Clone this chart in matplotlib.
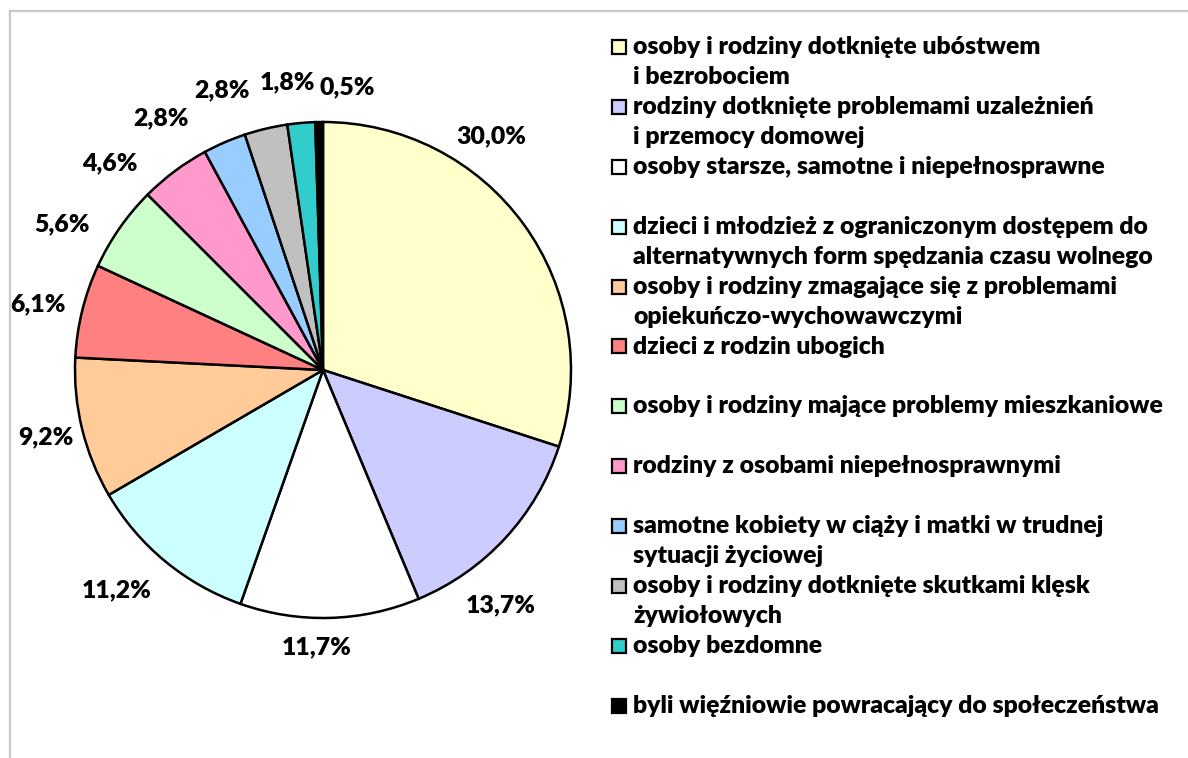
import matplotlib
matplotlib.use("Agg")
import matplotlib.pyplot as plt
from matplotlib.patches import Rectangle
from matplotlib.lines import Line2D
import numpy as np

# --- data ---
categories = [
    "osoby i rodziny dotknięte ubóstwem\ni bezrobociem",
    "rodziny dotknięte problemami uzależnień\ni przemocy domowej",
    "osoby starsze, samotne i niepełnosprawne",
    "dzieci i młodzież z ograniczonym dostępem do\nalternatywnych form spędzania czasu wolnego",
    "osoby i rodziny zmagające się z problemami\nopiekuńczo-wychowawczymi",
    "dzieci z rodzin ubogich",
    "osoby i rodziny mające problemy mieszkaniowe",
    "rodziny z osobami niepełnosprawnymi",
    "samotne kobiety w ciąży i matki w trudnej\nsytuacji życiowej",
    "osoby i rodziny dotknięte skutkami klęsk\nżywiołowych",
    "osoby bezdomne",
    "byli więźniowie powracający do społeczeństwa",
]
shares = [30.0, 13.7, 11.7, 11.2, 9.2, 6.1, 5.6, 4.6, 2.8, 2.8, 1.8, 0.5]
colors = ["#FFFFCC", "#CCCCFF", "#FFFFFF", "#CCFFFF", "#FFCC99", "#FF8080",
          "#CCFFCC", "#FF99CC", "#99CCFF", "#C0C0C0", "#33CCCC", "#000000"]

# label placement tweaks (angle shift in degrees from slice middle, radius)
lab_shift = [18.1, -10.2, -3.0, -3.5, 0.0, 0.8, 5.8, 9.1, 9.4, 6.6, 2.0, -5.8]
lab_r = [1.161, 1.189, 1.117, 1.215, 1.149, 1.179, 1.204, 1.198, 1.209, 1.200, 1.170, 1.145]

FONT = ["Lato", "DejaVu Sans"]
FS = 17.8
FW = "heavy"

W, H = 1188, 758
fig = plt.figure(figsize=(W / 100, H / 100), dpi=100)

# frame (left and top edges visible)
fig.add_artist(Line2D([10 / W, 10 / W], [0, 1 - 11 / H], transform=fig.transFigure,
                      color="#C8C8C8", lw=1.6))
fig.add_artist(Line2D([10 / W, 1], [1 - 11 / H, 1 - 11 / H], transform=fig.transFigure,
                      color="#C8C8C8", lw=1.6))

cx, cy, R = 323, 370, 248
ax = fig.add_axes([(cx - R) / W, (H - cy - R) / H, 2 * R / W, 2 * R / H])
wedges, _ = ax.pie(shares, colors=colors, startangle=90, counterclock=False, radius=1,
                   wedgeprops=dict(edgecolor="black", linewidth=1.8))
ax.set_xlim(-1, 1)
ax.set_ylim(-1, 1)
ax.axis("off")

# percent labels
for w, v, s, r in zip(wedges, shares, lab_shift, lab_r):
    mid = np.deg2rad((w.theta1 + w.theta2) / 2 + s)
    ax.text(r * np.cos(mid), r * np.sin(mid), f"{v:.1f}%".replace(".", ","),
            ha="center", va="center", fontsize=FS, fontweight=FW,
            family=FONT, clip_on=False)

# legend drawn by hand
y0, step, lead = 47, 59.9, 30
for i, (lab, c) in enumerate(zip(categories, colors)):
    y = y0 + step * i
    fig.add_artist(Rectangle((612 / W, 1 - (y + 7) / H), 14 / W, 14 / H,
                             transform=fig.transFigure, facecolor=c,
                             edgecolor="black", lw=1.6))
    for k, line in enumerate(lab.split("\n")):
        fig.text(633 / W, 1 - (y + lead * k) / H, line, ha="left", va="center",
                 fontsize=FS, fontweight=FW, family=FONT)

plt.savefig("out.png", dpi=100)
